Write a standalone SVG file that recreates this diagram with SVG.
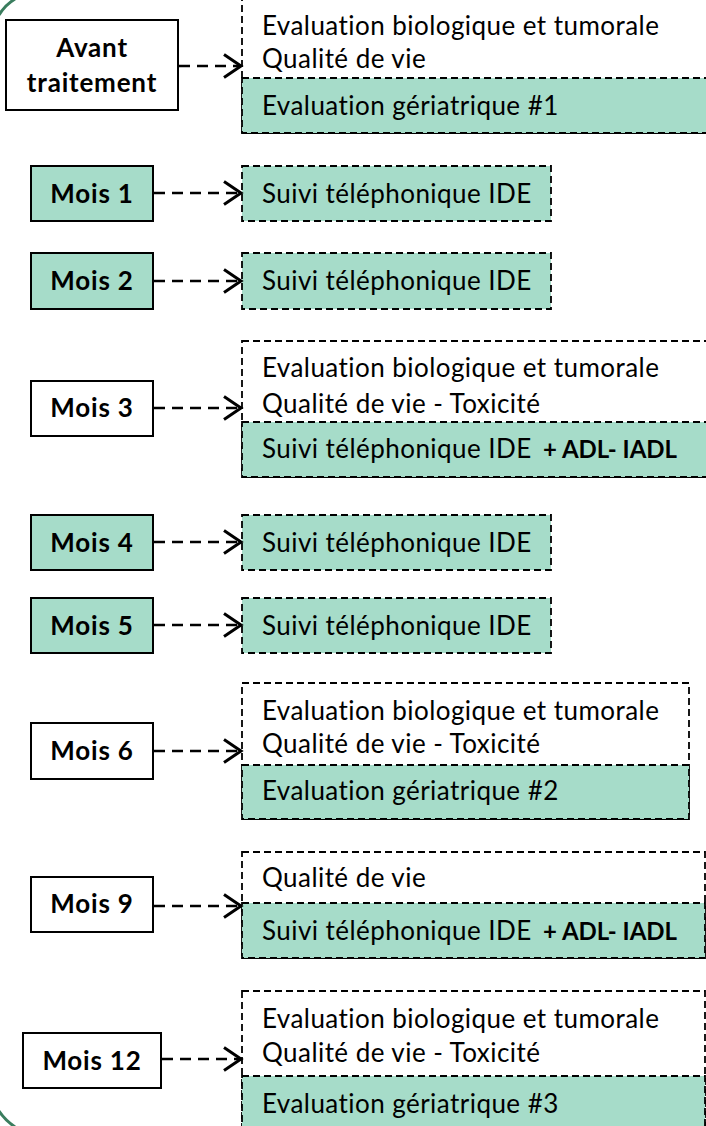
<svg xmlns="http://www.w3.org/2000/svg" width="706" height="1126" viewBox="0 0 706 1126">
<defs>
<style>
.node{stroke:#000;stroke-width:2}
.white{fill:#fff}
.green{fill:#A6DCC9}
.dash{stroke:#000;stroke-width:1.8;stroke-dasharray:7 4}
.lbl{font-family:Lato,"Liberation Sans",sans-serif;font-weight:bold;font-size:26px;letter-spacing:0.8px;fill:#000;text-anchor:middle}
.txt{font-family:Lato,"Liberation Sans",sans-serif;font-size:26px;letter-spacing:0.45px;fill:#000}
.b{font-weight:bold;font-size:24px;letter-spacing:0}
.arr{stroke:#000;stroke-width:2.5;stroke-dasharray:11 7;fill:none;marker-end:url(#chev)}
</style>
<marker id="chev" markerUnits="userSpaceOnUse" markerWidth="24" markerHeight="28" refX="19" refY="13.5" orient="auto">
<path d="M2,2 L19,13.5 L2,25" fill="none" stroke="#000" stroke-width="3"/>
</marker>
</defs>
<rect width="706" height="1126" fill="#fff"/>
<path d="M-1,15 Q5,5 15,-1" fill="none" stroke="#3A7D5E" stroke-width="3"/>
<path d="M-1,1111 Q5,1120 15,1127" fill="none" stroke="#3A7D5E" stroke-width="3"/>

<g id="avant">
<rect class="node white" x="6" y="20" width="172" height="90"/>
<text class="lbl" x="92" y="57">Avant</text>
<text class="lbl" x="92" y="92">traitement</text>
</g>
<g id="avant-details">
<rect class="dash white" x="242" y="-5" width="470" height="138"/>
<text class="txt" x="262" y="35">Evaluation biologique et tumorale</text>
<text class="txt" x="262" y="68">Qualité de vie</text>
<rect class="dash green" x="242" y="78" width="470" height="55"/>
<text class="txt" x="262" y="115">Evaluation gériatrique #1</text>
</g>

<g id="mois1">
<rect class="node green" x="31" y="166" width="122" height="55"/>
<text class="lbl" x="92" y="203">Mois 1</text>
</g>
<g id="mois1-details">
<rect class="dash green" x="242" y="166" width="309" height="55"/>
<text class="txt" x="262" y="203">Suivi téléphonique IDE</text>
</g>

<g id="mois2">
<rect class="node green" x="31" y="253" width="122" height="56"/>
<text class="lbl" x="92" y="290">Mois 2</text>
</g>
<g id="mois2-details">
<rect class="dash green" x="242" y="253" width="309" height="56"/>
<text class="txt" x="262" y="290">Suivi téléphonique IDE</text>
</g>

<g id="mois3">
<rect class="node white" x="31" y="381" width="122" height="55"/>
<text class="lbl" x="92" y="417">Mois 3</text>
</g>
<g id="mois3-details">
<rect class="dash white" x="242" y="341" width="470" height="136"/>
<text class="txt" x="262" y="377">Evaluation biologique et tumorale</text>
<text class="txt" x="262" y="413">Qualité de vie - Toxicité</text>
<rect class="dash green" x="242" y="422" width="470" height="55"/>
<text class="txt" x="262" y="458">Suivi téléphonique IDE<tspan class="b" x="543">+ ADL- IADL</tspan></text>
</g>

<g id="mois4">
<rect class="node green" x="31" y="515" width="122" height="55"/>
<text class="lbl" x="92" y="552">Mois 4</text>
</g>
<g id="mois4-details">
<rect class="dash green" x="242" y="515" width="309" height="55"/>
<text class="txt" x="262" y="552">Suivi téléphonique IDE</text>
</g>

<g id="mois5">
<rect class="node green" x="31" y="598" width="122" height="55"/>
<text class="lbl" x="92" y="635">Mois 5</text>
</g>
<g id="mois5-details">
<rect class="dash green" x="242" y="598" width="309" height="55"/>
<text class="txt" x="262" y="635">Suivi téléphonique IDE</text>
</g>

<g id="mois6">
<rect class="node white" x="31" y="723" width="122" height="56"/>
<text class="lbl" x="92" y="760">Mois 6</text>
</g>
<g id="mois6-details">
<rect class="dash white" x="242" y="683" width="447" height="136"/>
<text class="txt" x="262" y="720">Evaluation biologique et tumorale</text>
<text class="txt" x="262" y="753">Qualité de vie - Toxicité</text>
<rect class="dash green" x="242" y="765" width="447" height="54"/>
<text class="txt" x="262" y="800">Evaluation gériatrique #2</text>
</g>

<g id="mois9">
<rect class="node white" x="31" y="877" width="122" height="55"/>
<text class="lbl" x="92" y="913">Mois 9</text>
</g>
<g id="mois9-details">
<rect class="dash white" x="242" y="852" width="463" height="106"/>
<text class="txt" x="262" y="887">Qualité de vie</text>
<rect class="dash green" x="242" y="903" width="463" height="55"/>
<text class="txt" x="262" y="940">Suivi téléphonique IDE<tspan class="b" x="543">+ ADL- IADL</tspan></text>
</g>

<g id="mois12">
<rect class="node white" x="23" y="1033" width="138" height="55"/>
<text class="lbl" x="92" y="1070">Mois 12</text>
</g>
<g id="mois12-details">
<rect class="dash white" x="242" y="991" width="463" height="140"/>
<text class="txt" x="262" y="1028">Evaluation biologique et tumorale</text>
<text class="txt" x="262" y="1062">Qualité de vie - Toxicité</text>
<rect class="dash green" x="242" y="1076" width="463" height="55"/>
<text class="txt" x="262" y="1113">Evaluation gériatrique #3</text>
</g>

<g id="connectors">
<line class="arr" x1="179" y1="66" x2="241" y2="66"/>
<line class="arr" x1="154" y1="193" x2="241" y2="193"/>
<line class="arr" x1="154" y1="281" x2="241" y2="281"/>
<line class="arr" x1="154" y1="408" x2="241" y2="408"/>
<line class="arr" x1="154" y1="542" x2="241" y2="542"/>
<line class="arr" x1="154" y1="625" x2="241" y2="625"/>
<line class="arr" x1="154" y1="751" x2="241" y2="751"/>
<line class="arr" x1="154" y1="906" x2="241" y2="906"/>
<line class="arr" x1="162" y1="1059" x2="241" y2="1059"/>
</g>
</svg>
